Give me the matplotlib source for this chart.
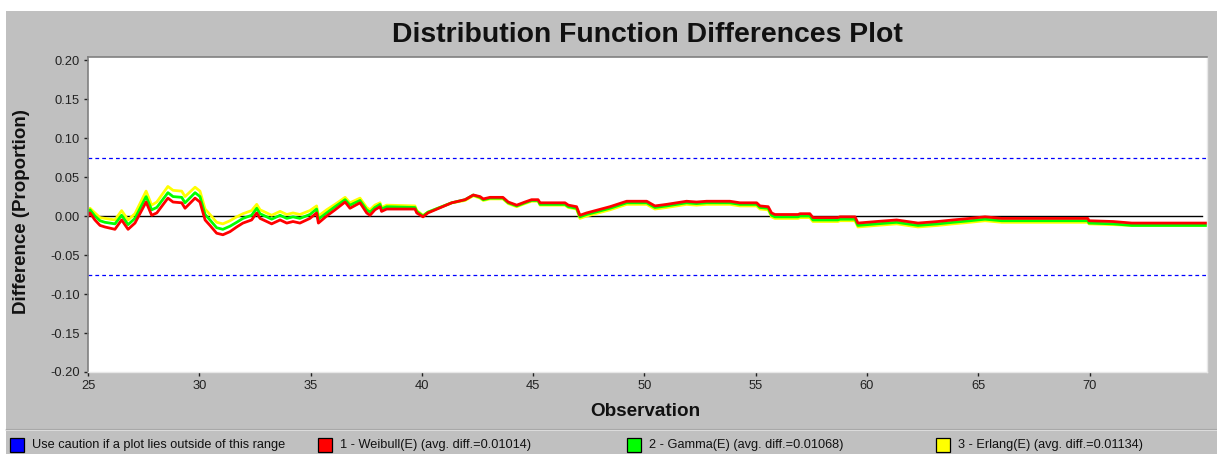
import matplotlib
matplotlib.use("Agg")
import matplotlib.pyplot as plt
from matplotlib.patches import Rectangle
from matplotlib.lines import Line2D

plt.rcParams['font.family'] = ['Liberation Sans', 'DejaVu Sans']

# observation positions (x) and differences
obs = [25.00, 25.09, 25.31, 25.54, 25.76, 26.21, 26.51, 26.80, 27.11, 27.61,
       27.86, 28.09, 28.59, 28.82, 29.21, 29.36, 29.81, 30.03, 30.26, 30.48,
       30.78, 31.06, 31.38, 31.68, 31.96, 32.35, 32.58, 32.73, 33.03, 33.25,
       33.63, 33.93, 34.21, 34.52, 34.97, 35.27, 35.35, 35.72, 36.10, 36.55,
       36.77, 37.22, 37.52, 37.67, 37.89, 38.12, 38.19, 38.42, 39.69, 39.77,
       40.05, 40.27, 41.34, 41.94, 42.31, 42.61, 42.76, 43.06, 43.64, 43.88,
       44.26, 44.63, 44.93, 45.22, 45.31, 46.43, 46.58, 46.95, 47.10, 47.40,
       48.45, 49.20, 50.10, 50.47, 51.00, 51.89, 52.34, 52.79, 53.84, 54.29,
       55.04, 55.19, 55.56, 55.71, 55.86, 56.90, 56.99, 57.43, 57.57, 58.69,
       58.78, 59.46, 59.59, 60.43, 61.33, 62.29, 63.18, 63.86, 64.62, 65.30,
       66.05, 69.92, 69.97, 71.05, 71.89, 75.25]

weibull = [0.000, 0.004, -0.005, -0.012, -0.014, -0.017, -0.005, -0.017, -0.009, 0.018,
           0.001, 0.004, 0.023, 0.018, 0.017, 0.010, 0.023, 0.018, -0.005, -0.012,
           -0.022, -0.024, -0.020, -0.014, -0.009, -0.005, 0.004, -0.003, -0.007, -0.010,
           -0.005, -0.009, -0.007, -0.009, -0.003, 0.004, -0.009, 0.000, 0.008, 0.018,
           0.010, 0.017, 0.004, 0.001, 0.008, 0.012, 0.006, 0.009, 0.009, 0.004,
           -0.001, 0.004, 0.017, 0.021, 0.027, 0.025, 0.022, 0.024, 0.024, 0.018,
           0.014, 0.018, 0.021, 0.021, 0.017, 0.017, 0.014, 0.012, 0.001, 0.004,
           0.012, 0.019, 0.019, 0.013, 0.015, 0.019, 0.018, 0.019, 0.019, 0.017,
           0.017, 0.013, 0.012, 0.004, 0.002, 0.002, 0.003, 0.003, -0.002, -0.002,
           -0.001, -0.001, -0.009, -0.007, -0.005, -0.009, -0.007, -0.005, -0.003, -0.001,
           -0.003, -0.003, -0.006, -0.007, -0.009, -0.009]

gamma = [0.003, 0.008, 0.000, -0.006, -0.008, -0.010, 0.001, -0.011, -0.003, 0.025,
         0.008, 0.011, 0.030, 0.025, 0.024, 0.017, 0.030, 0.025, 0.002, -0.005,
         -0.015, -0.017, -0.013, -0.008, -0.003, 0.001, 0.010, 0.003, -0.001, -0.004,
         0.001, -0.003, -0.001, -0.003, 0.002, 0.009, -0.004, 0.004, 0.012, 0.021,
         0.014, 0.020, 0.008, 0.005, 0.011, 0.015, 0.009, 0.012, 0.011, 0.006,
         0.000, 0.005, 0.017, 0.021, 0.027, 0.024, 0.021, 0.023, 0.023, 0.017,
         0.013, 0.017, 0.020, 0.020, 0.015, 0.015, 0.012, 0.010, -0.001, 0.002,
         0.010, 0.017, 0.017, 0.011, 0.013, 0.017, 0.016, 0.017, 0.017, 0.015,
         0.015, 0.011, 0.010, 0.001, -0.001, -0.001, 0.000, 0.000, -0.005, -0.005,
         -0.004, -0.004, -0.012, -0.010, -0.008, -0.012, -0.010, -0.008, -0.006, -0.004,
         -0.006, -0.006, -0.009, -0.010, -0.012, -0.012]

erlang = [0.005, 0.010, 0.004, -0.002, -0.003, -0.005, 0.007, -0.005, 0.003, 0.032,
          0.014, 0.018, 0.038, 0.033, 0.032, 0.025, 0.037, 0.032, 0.009, 0.002,
          -0.008, -0.010, -0.006, -0.001, 0.003, 0.007, 0.015, 0.008, 0.004, 0.001,
          0.006, 0.002, 0.004, 0.002, 0.007, 0.013, 0.000, 0.008, 0.015, 0.024,
          0.017, 0.023, 0.011, 0.008, 0.014, 0.017, 0.011, 0.014, 0.013, 0.007,
          0.001, 0.005, 0.017, 0.020, 0.026, 0.023, 0.020, 0.022, 0.022, 0.016,
          0.012, 0.016, 0.019, 0.019, 0.014, 0.014, 0.011, 0.009, -0.003, 0.000,
          0.008, 0.015, 0.015, 0.009, 0.011, 0.015, 0.014, 0.015, 0.015, 0.013,
          0.013, 0.009, 0.008, -0.001, -0.003, -0.003, -0.002, -0.002, -0.007, -0.007,
          -0.006, -0.006, -0.014, -0.012, -0.010, -0.014, -0.012, -0.010, -0.008, -0.006,
          -0.008, -0.008, -0.010, -0.011, -0.012, -0.012]

series_labels = ["1 - Weibull(E) (avg. diff.=0.01014)",
                 "2 - Gamma(E) (avg. diff.=0.01068)",
                 "3 - Erlang(E) (avg. diff.=0.01134)"]
caution_label = "Use caution if a plot lies outside of this range"
caution_level = 0.075
y_ticks = [-0.20, -0.15, -0.10, -0.05, 0.00, 0.05, 0.10, 0.15, 0.20]
x_ticks = [25, 30, 35, 40, 45, 50, 55, 60, 65, 70]

W, H = 1217, 454
fig = plt.figure(figsize=(W / 100, H / 100), dpi=100)
fig.patch.set_facecolor('white')

# grey panel behind everything
fig.patches.append(Rectangle((6 / W, 0), 1 - 6 / W, 1 - 11 / H, transform=fig.transFigure,
                             facecolor='#c0c0c0', edgecolor='none', zorder=-10))
# separator above legend strip
fig.lines.append(Line2D([6 / W, 1], [1 - 430 / H, 1 - 430 / H], transform=fig.transFigure,
                        color='#e6e6e6', lw=1.2, zorder=-5))
fig.lines.append(Line2D([6 / W, 1], [1 - 428.5 / H, 1 - 428.5 / H], transform=fig.transFigure,
                        color='#a8a8a8', lw=0.8, zorder=-5))

ax = fig.add_axes([88 / W, 1 - 372 / H, (1206.5 - 88) / W, (372 - 57) / H])
ax.set_zorder(1)
ax.set_facecolor('white')

ax.axhline(caution_level, color='#0000ff', lw=0.9, ls=(0, (3, 2.5)))
ax.axhline(-caution_level, color='#0000ff', lw=0.9, ls=(0, (3, 2.5)))
ax.plot([25, 75.05], [0, 0], color='black', lw=1.0)

ax.plot(obs, erlang, color='#ffff00', lw=2.0)
ax.plot(obs, gamma, color='#00ff00', lw=2.0)
ax.plot(obs, weibull, color='#ff0000', lw=2.0)

ax.set_xlim(25, 75.25)
ax.set_ylim(-0.20, 0.204)
ax.set_xticks(x_ticks)
ax.set_yticks(y_ticks)
ax.set_yticklabels([f"{v:.2f}" for v in y_ticks])
ax.tick_params(axis='both', labelsize=9.3, colors='#222222', length=3, width=1, pad=3)

for side in ['left', 'top']:
    ax.spines[side].set_color('#808080')
    ax.spines[side].set_linewidth(1.2)
for side in ['right', 'bottom']:
    ax.spines[side].set_color('#e8e8e8')
    ax.spines[side].set_linewidth(1.0)

fig.text(647 / W, 1 - 35 / H, "Distribution Function Differences Plot", fontsize=20.4,
         fontweight='bold', ha='center', va='center', color='#111111')
fig.text(22 / W, 1 - 212 / H, "Difference (Proportion)", fontsize=13.5, fontweight='bold',
         rotation=90, ha='center', va='center', color='#111111')
fig.text(645 / W, 1 - 411 / H, "Observation", fontsize=13.6, fontweight='bold',
         ha='center', va='center', color='#111111')

# legend strip
legend_items = [(10, '#0000ff', caution_label),
                (318, '#ff0000', series_labels[0]),
                (627, '#00ff00', series_labels[1]),
                (936, '#ffff00', series_labels[2])]
for x0, col, txt in legend_items:
    fig.patches.append(Rectangle((x0 / W, 1 - 452 / H), 14 / W, 14 / H, transform=fig.transFigure,
                                 facecolor=col, edgecolor='black', lw=0.9, zorder=3))
    fig.text((x0 + 22) / W, 1 - 445 / H, txt, fontsize=9.2, ha='left', va='center',
             color='#111111')

fig.savefig('out.png', dpi=100)
